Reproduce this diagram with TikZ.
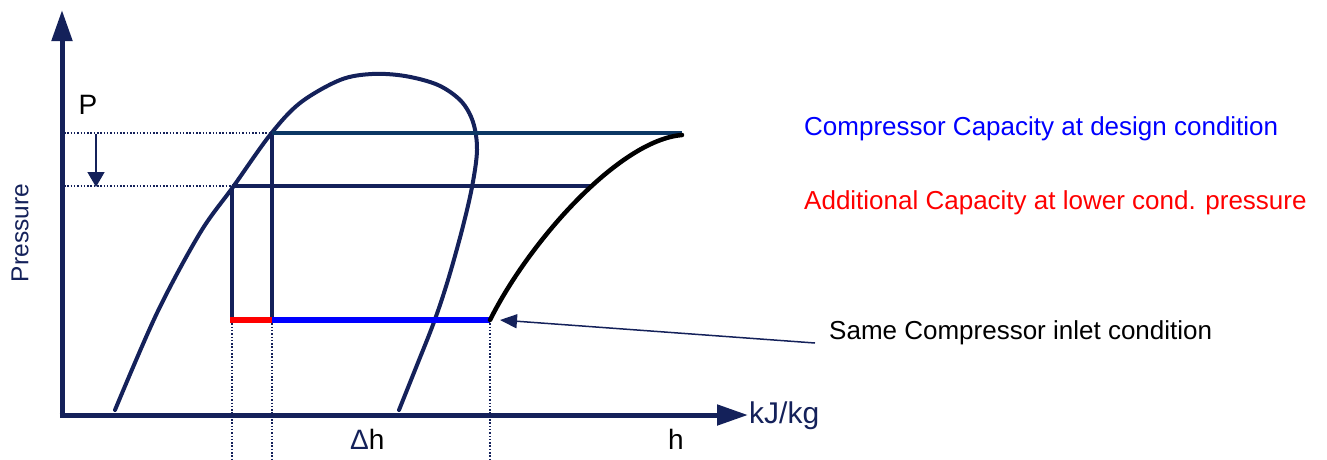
\documentclass[tikz,border=0pt]{standalone}
\usepackage{fontspec}
\setmainfont{Liberation Sans}
\usetikzlibrary{arrows.meta}
\definecolor{navy}{RGB}{20,33,90}
\definecolor{steel}{RGB}{12,55,100}
\definecolor{pblue}{RGB}{0,0,255}
\definecolor{pred}{RGB}{255,0,0}
\tikzset{
  axis/.style={draw=navy,line width=5pt,-{Triangle[length=31pt,width=20pt]}},
  cycleline/.style={draw=navy,line width=4pt},
  guide/.style={draw=navy,line width=1.2pt,dash pattern=on 1.5pt off 1.8pt},
  lbl/.style={inner sep=0pt,anchor=west},
}
\begin{document}
\begin{tikzpicture}[x=1pt,y=-1pt]
\useasboundingbox (0,0) rectangle (1327,459);
% coordinates
\coordinate (O) at (62,415);
\coordinate (ytop) at (62,10);
\coordinate (xend) at (748,415);
\coordinate (A) at (272,133);
\coordinate (B) at (232,186);
\coordinate (Aend) at (682,133);
\coordinate (Bend) at (590,186);
\coordinate (Ad) at (272,320);
\coordinate (Bd) at (232,320);
\coordinate (S) at (490,320);
\coordinate (yA) at (64,133);
\coordinate (yB) at (64,186);
\coordinate (Abot) at (272,459);
\coordinate (Bbot) at (232,459);
\coordinate (Sbot) at (490,459);
\coordinate (pa1) at (96,134);
\coordinate (pa2) at (96,187);
\coordinate (Sarr) at (500,320);
\coordinate (Lstart) at (815,343);
\coordinate (C) at (682,135);
% dotted guides
\draw[guide] (yA) -- (A);
\draw[guide] (yB) -- (B);
\draw[guide] (Bd) -- (Bbot);
\draw[guide] (Ad) -- (Abot);
\draw[guide] (S) -- (Sbot);
% axes
\draw[axis] (O) -- (ytop);
\draw[axis] ([xshift=-2.5pt]O) -- (xend);
% dome
\draw[navy,line width=4pt,line cap=round] plot[smooth,tension=0.55] coordinates {(115,410) (157,313) (200,233) (233,187) (270,135) (300,103) (340,80) (372,74) (405,76) (438,85) (461,101) (473,122) (477,150) (472,187) (462,230) (448,280) (434,322) (415,370) (399,410)};
% cycle lines
\draw[draw=steel,line width=4pt] (A) -- (Aend);
\draw[cycleline] (B) -- (Bend);
\draw[cycleline] ([yshift=-2pt]A) -- (Ad);
\draw[cycleline] ([yshift=-2pt]B) -- (Bd);
\draw[pred,line width=6pt] ([xshift=-2pt]Bd) -- (Ad);
\draw[pblue,line width=6pt] (Ad) -- (S);
% compression curve
\draw[black,line width=4.5pt,line cap=round] (S) .. controls (530,240) and (620,140) .. (C);
% arrows
\draw[navy,line width=1.5pt,-{Triangle[length=15pt,width=17pt]}] (pa1) -- (pa2);
\draw[navy,line width=1.5pt,-{Triangle[length=17pt,width=14pt]}] (Lstart) -- (Sarr);
% labels
\node[font=\fontsize{28}{30}\selectfont] (P) at (88,105) {P};
\node[font=\fontsize{24.5}{26}\selectfont,text=navy,rotate=90] (pres) at (20,233) {Pressure};
\node[font=\fontsize{28}{30}\selectfont,anchor=base west,inner sep=0pt] (dh) at (350,449) {{\color{navy}Δ}h};
\node[font=\fontsize{28}{30}\selectfont,anchor=base] (h) at (676,449) {h};
\node[lbl,font=\fontsize{30}{32}\selectfont,text=navy] (unit) at (749,416) {kJ/kg};
\node[lbl,font=\fontsize{26}{28}\selectfont,text=pblue] (t1) at (804,129) {Compressor Capacity at design condition};
\node[lbl,font=\fontsize{26}{28}\selectfont,text=pred] (t2) at (804,203) {Additional Capacity at lower cond. pressure};
\node[lbl,font=\fontsize{26}{28}\selectfont,text=black] (t3) at (829,333) {Same Compressor inlet condition};
\end{tikzpicture}
\end{document}
